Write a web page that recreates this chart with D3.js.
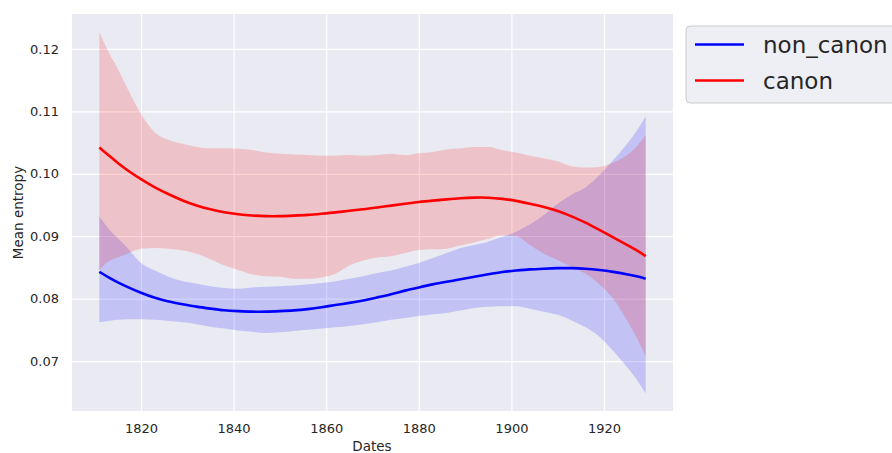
<html lang="en">

<head>
  <meta charset="UTF-8">
  <title>Mean entropy</title>
  <style>
    body { margin: 0; background: #fff; }
    text { font-family: "DejaVu Sans", sans-serif; fill: #262626; }
  </style>
</head>

<body>
  <div id="my_dataviz"></div>
  <script src="https://d3js.org/d3.v7.min.js"></script>

  <script>

    // data
    const years = [1811, 1813, 1815, 1817, 1820, 1823, 1826, 1829, 1832, 1835, 1838, 1841, 1844, 1847, 1850,
      1853, 1856, 1859, 1862, 1865, 1868, 1871, 1874, 1877, 1880, 1883, 1886, 1889, 1892, 1895, 1898,
      1901, 1904, 1907, 1910, 1913, 1916, 1919, 1922, 1925, 1927, 1929];

    const canonMean = [0.1042, 0.1030, 0.1017, 0.1006, 0.0991, 0.0978, 0.0967, 0.0957, 0.0949, 0.0943, 0.0938,
      0.0935, 0.0933, 0.0932, 0.0932, 0.0933, 0.0934, 0.0936, 0.0938, 0.0941, 0.0943, 0.0946, 0.0949, 0.0952,
      0.0955, 0.0957, 0.0959, 0.0961, 0.0962, 0.0962, 0.0960, 0.0957, 0.0952, 0.0947, 0.0941, 0.0932, 0.0922,
      0.0910, 0.0898, 0.0886, 0.0878, 0.0868];
    const canonLow = [0.0846, 0.0860, 0.0866, 0.0872, 0.0880, 0.0881, 0.0880, 0.0877, 0.0872, 0.0863, 0.0853,
      0.0846, 0.0839, 0.0836, 0.0835, 0.0832, 0.0832, 0.0834, 0.0840, 0.0853, 0.0861, 0.0866, 0.0868, 0.0873,
      0.0878, 0.0879, 0.0880, 0.0885, 0.0890, 0.0896, 0.0901, 0.0900, 0.0886, 0.0872, 0.0862, 0.0851, 0.0840,
      0.0823, 0.0800, 0.0765, 0.0738, 0.0708];
    const canonHigh = [0.1227, 0.1195, 0.1168, 0.1138, 0.1096, 0.1066, 0.1054, 0.1048, 0.1043, 0.1041, 0.1041,
      0.1040, 0.1038, 0.1034, 0.1032, 0.1031, 0.1030, 0.1029, 0.1029, 0.1030, 0.1029, 0.1030, 0.1032, 0.1030,
      0.1033, 0.1035, 0.1039, 0.1041, 0.1043, 0.1043, 0.1038, 0.1034, 0.1029, 0.1025, 0.1020, 0.1012, 0.1010,
      0.1011, 0.1018, 0.1030, 0.1043, 0.1062];

    const nonMean = [0.0843, 0.0834, 0.0826, 0.0819, 0.0809, 0.0801, 0.0795, 0.0791, 0.0787, 0.0784, 0.0781,
      0.0780, 0.0779, 0.0779, 0.0780, 0.0781, 0.0783, 0.0786, 0.0790, 0.0793, 0.0797, 0.0802, 0.0807, 0.0813,
      0.0818, 0.0823, 0.0827, 0.0831, 0.0835, 0.0839, 0.0843, 0.0845, 0.0847, 0.0848, 0.0849, 0.0849, 0.0848,
      0.0846, 0.0843, 0.0839, 0.0836, 0.0832];
    const nonLow = [0.0762, 0.0764, 0.0766, 0.0767, 0.0767, 0.0766, 0.0764, 0.0762, 0.0759, 0.0755, 0.0752,
      0.0749, 0.0747, 0.0745, 0.0746, 0.0748, 0.0750, 0.0752, 0.0754, 0.0756, 0.0759, 0.0762, 0.0766, 0.0769,
      0.0772, 0.0775, 0.0777, 0.0781, 0.0785, 0.0787, 0.0788, 0.0788, 0.0784, 0.0779, 0.0774, 0.0765, 0.0754,
      0.0739, 0.0716, 0.0690, 0.0671, 0.0648];
    const nonHigh = [0.0932, 0.0912, 0.0897, 0.0882, 0.0857, 0.0845, 0.0835, 0.0828, 0.0824, 0.0820, 0.0817,
      0.0816, 0.0818, 0.0819, 0.0820, 0.0821, 0.0823, 0.0825, 0.0828, 0.0832, 0.0836, 0.0841, 0.0845, 0.0851,
      0.0857, 0.0865, 0.0873, 0.0881, 0.0886, 0.0891, 0.0899, 0.0907, 0.0919, 0.0934, 0.0952, 0.0967, 0.0978,
      0.0998, 0.1022, 0.1048, 0.1068, 0.1092];

    const xTicks = [1820, 1840, 1860, 1880, 1900, 1920];
    const yTicks = [0.07, 0.08, 0.09, 0.10, 0.11, 0.12];

    const series = [
      { name: "non_canon", color: "blue", mean: nonMean, low: nonLow, high: nonHigh },
      { name: "canon", color: "red", mean: canonMean, low: canonLow, high: canonHigh }
    ];

    // dimensions
    const W = 892, H = 453;
    const margin = { top: 14, right: 219, bottom: 42, left: 72 },
      width = W - margin.left - margin.right,
      height = H - margin.top - margin.bottom;

    const svg = d3.select("#my_dataviz")
      .append("svg")
      .attr("width", W)
      .attr("height", H);

    const g = svg.append("g")
      .attr("transform", `translate(${margin.left},${margin.top})`);

    // scales
    const x = d3.scaleLinear().domain([1805.1, 1934.9]).range([0, width]);
    const y = d3.scaleLinear().domain([0.0620, 0.1256]).range([height, 0]);

    // background
    g.append("rect")
      .attr("width", width)
      .attr("height", height)
      .attr("fill", "#EAEAF2");

    // grid
    g.append("g")
      .call(d3.axisBottom(x).tickValues(xTicks).tickSize(height).tickFormat(""))
      .call(a => a.select(".domain").remove())
      .call(a => a.selectAll("line").attr("stroke", "#fff").attr("stroke-width", 1.2));
    g.append("g")
      .call(d3.axisLeft(y).tickValues(yTicks).tickSize(-width).tickFormat(""))
      .call(a => a.select(".domain").remove())
      .call(a => a.selectAll("line").attr("stroke", "#fff").attr("stroke-width", 1.2));

    // tick labels
    g.append("g")
      .attr("transform", `translate(0,${height})`)
      .call(d3.axisBottom(x).tickValues(xTicks).tickSize(0).tickPadding(13).tickFormat(d3.format("d")))
      .call(a => a.select(".domain").remove())
      .call(a => a.selectAll("text").style("font-size", "13px").attr("fill", "#262626"));
    g.append("g")
      .call(d3.axisLeft(y).tickValues(yTicks).tickSize(0).tickPadding(13).tickFormat(d3.format(".2f")))
      .call(a => a.select(".domain").remove())
      .call(a => a.selectAll("text").style("font-size", "13px").attr("fill", "#262626"));

    // axis titles
    svg.append("text")
      .attr("x", 372)
      .attr("y", 451)
      .attr("text-anchor", "middle")
      .style("font-size", "13.5px")
      .text("Dates");
    svg.append("text")
      .attr("transform", `translate(23,${margin.top + height / 2}) rotate(-90)`)
      .attr("text-anchor", "middle")
      .style("font-size", "13.5px")
      .text("Mean entropy");

    // bands then lines
    series.forEach(s => {
      const rows = years.map((yr, i) => ({ yr, low: s.low[i], high: s.high[i] }));
      g.append("path")
        .datum(rows)
        .attr("fill", s.color)
        .attr("fill-opacity", 0.17)
        .attr("d", d3.area()
          .x(d => x(d.yr))
          .y0(d => y(d.low))
          .y1(d => y(d.high))
          .curve(d3.curveMonotoneX));
    });
    series.forEach(s => {
      const rows = years.map((yr, i) => ({ yr, mean: s.mean[i] }));
      g.append("path")
        .datum(rows)
        .attr("fill", "none")
        .attr("stroke", s.color)
        .attr("stroke-width", 2.6)
        .attr("d", d3.line()
          .x(d => x(d.yr))
          .y(d => y(d.mean))
          .curve(d3.curveBasis));
    });

    // legend
    const lg = svg.append("g").attr("transform", "translate(686,26)");
    lg.append("rect")
      .attr("width", 230)
      .attr("height", 77)
      .attr("rx", 4)
      .attr("fill", "#EAEAF2")
      .attr("fill-opacity", 0.8)
      .attr("stroke", "#CCCCCC");
    series.forEach((s, i) => {
      const yy = 18.5 + i * 36;
      lg.append("line")
        .attr("x1", 9).attr("x2", 58)
        .attr("y1", yy).attr("y2", yy)
        .attr("stroke", s.color)
        .attr("stroke-width", 2.6);
      lg.append("text")
        .attr("x", 77)
        .attr("y", yy)
        .attr("dy", "0.35em")
        .style("font-size", "23px")
        .text(s.name);
    });

  </script>

</body>

</html>
